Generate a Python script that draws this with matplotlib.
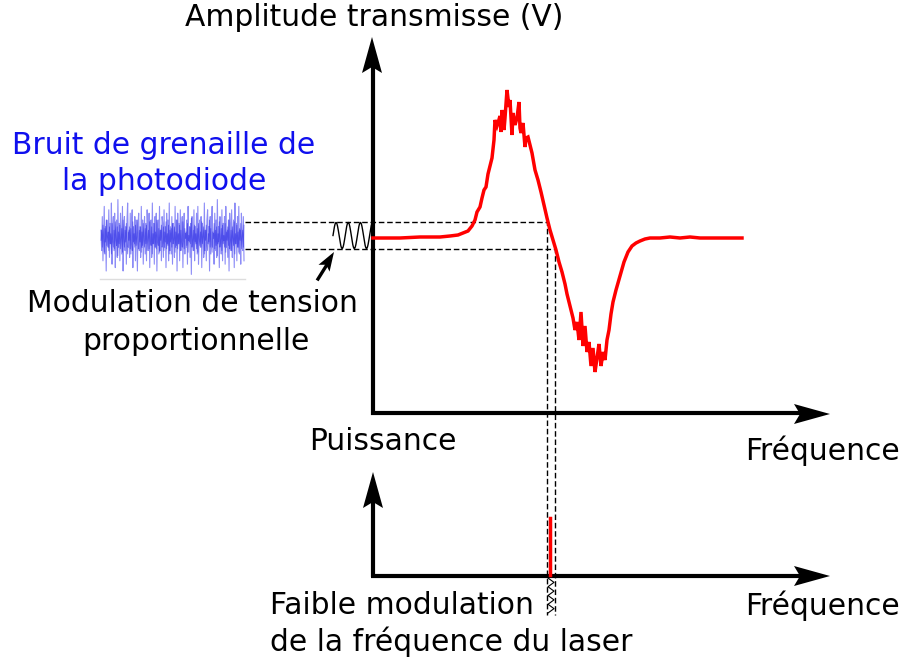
import numpy as np
import matplotlib.pyplot as plt
from matplotlib.patches import Polygon

# Courbe de transmission (signal d'erreur) - coordonnees lues en pixels
curve_x = [373, 400, 420, 440, 450, 458, 463, 468, 472, 475, 477, 480, 482, 484,
           486, 488, 490, 492, 494, 495, 497, 498, 500, 501, 502, 504, 505, 507,
           509, 510, 512, 513, 515, 517, 519, 520, 521, 523, 525, 526, 528, 530,
           532, 535, 538, 541, 544, 547, 550, 553, 556, 559, 562, 565, 567, 569,
           571, 573, 575, 577, 579, 581, 583, 585, 587, 589, 591, 593, 595, 597,
           599, 601, 603, 605, 607, 609, 611, 613, 616, 620, 624, 628, 632, 636,
           640, 645, 650, 660, 670, 680, 690, 700, 742]
curve_y = [238, 238, 237, 237, 236, 235, 233, 231, 226, 220, 212, 207, 198, 190,
           187, 174, 166, 158, 140, 120, 126, 123, 116, 132, 110, 130, 118, 90,
           107, 100, 135, 113, 125, 118, 102, 128, 133, 123, 147, 138, 137, 145,
           153, 170, 180, 192, 205, 218, 230, 240, 250, 262, 272, 284, 294, 302,
           310, 318, 330, 322, 340, 312, 346, 326, 352, 342, 366, 348, 372, 358,
           344, 366, 352, 360, 340, 330, 314, 302, 290, 276, 262, 252, 246, 243,
           241, 239, 238, 238, 237, 238, 237, 238, 238]

# Bruit de grenaille (valeurs normalisees)
bruit = [0.2, -0.4, 0.6, -0.7, 0.1, 0.9, -0.5, 0.3, -1.0, 0.5, 0.0, -0.3, 0.8,
         -0.6, 0.4, -0.2, 1.0, -0.8, 0.3, 0.6, -0.4, 0.7, -0.9, 0.2, 0.5, -0.6,
         1.1, -0.3, 0.4, -0.7, 0.7, 0.1, -0.5, 0.9, -1.0, 0.2, 0.6, -0.4, 0.3,
         -0.8, 0.5, 1.0, -0.3, 0.2, -0.6, 0.7, -0.5, 0.4, 0.8, -0.9, 0.3, -0.2,
         0.6, -0.7, 0.5, 0.0, -1.0, 0.4, 0.7, -0.4, 0.3, -0.6, 0.9, -0.3, 0.5,
         -0.8, 0.2, 0.6, -0.5, 0.4, -0.7, 0.8, 0.1, -0.4, 0.7, -0.9, 0.3, 0.5,
         -0.6, 1.0, -0.2, 0.4, -0.8, 0.6, -0.3, 0.7, -1.0, 0.3, 0.5, -0.5, 0.9,
         -0.4, 0.2, -0.7, 0.6, 0.4, -0.6, 0.8, -0.3, 0.3, -0.9, 0.7, -0.2, 0.5,
         -0.7, 1.0, -0.4, 0.3, -0.5, 0.6, -0.8, 0.4, 0.2, -0.6, 0.9, -0.3, 0.5,
         -1.0, 0.7, -0.2, 0.4, -0.7, 0.8, -0.4, 0.3, 0.6, -0.9, 0.2, 0.7, -0.5,
         0.1, -0.3, 0.5, -0.8, 0.9, -0.1, 0.3, -0.6, 0.4, -1.1, 0.6, 0.2, -0.4,
         0.8, -0.7, 0.3, -0.2, 0.7, -0.5, 0.9, -0.8, 0.1, 0.5, -0.3, 0.6, -0.9,
         0.4, 0.0, -0.6, 1.0, -0.4, 0.2, -0.7, 0.5, 0.8, -0.2, 0.3, -1.0, 0.6,
         -0.5, 0.4, 0.9, -0.3, 0.1, -0.8, 0.7, -0.4, 0.5, -0.6, 1.1, -0.2, 0.3,
         -0.9, 0.6, 0.2, -0.5, 0.8, -0.7, 0.4, -0.1, 0.6, -0.8, 0.9, -0.3, 0.2,
         -0.6, 0.5, -1.0, 0.7, 0.3, -0.4, 0.8, -0.6, 0.1, 0.5, -0.9, 1.0, -0.2,
         0.4, -0.7, 0.6, -0.3, 0.9, -0.5, 0.2, -0.8, 0.7, 0.0, -0.4, 0.6, -0.7]

fig = plt.figure(figsize=(9.07, 6.66), dpi=100)
ax = fig.add_axes([0, 0, 1, 1])
ax.set_xlim(0, 907)
ax.set_ylim(666, 0)
ax.axis('off')


def fleche(tip, direction, longueur=36, largeur=20, creux=6, **kw):
    d = np.array(direction, float)
    d /= np.linalg.norm(d)
    n = np.array([-d[1], d[0]])
    t = np.array(tip, float)
    base = t - d * longueur
    pts = [t, base + n * largeur / 2, base + d * creux, base - n * largeur / 2]
    ax.add_patch(Polygon(pts, closed=True, color='black', lw=0, **kw))


# Axes du haut
ax.plot([373, 373], [415, 60], color='black', lw=3, solid_capstyle='butt')
ax.plot([371, 805], [413, 413], color='black', lw=3, solid_capstyle='butt')
fleche((372, 37), (0, -1))
fleche((830, 414), (1, 0))

# Axes du bas
ax.plot([373, 373], [577, 495], color='black', lw=3, solid_capstyle='butt')
ax.plot([371, 805], [576, 576], color='black', lw=3, solid_capstyle='butt')
fleche((373, 472), (0, -1))
fleche((830, 576), (1, 0))

# Lignes de report en pointilles
dash = dict(color='black', lw=1, ls=(0, (4, 2)))
ax.plot([245, 547, 547], [222, 222, 615], **dash)
ax.plot([245, 555, 555], [249, 249, 615], **dash)

# Courbe rouge
ax.plot(curve_x, curve_y, color='red', lw=2.5, zorder=3, solid_joinstyle='miter')

# Raie laser et modulation de frequence
ax.plot([550, 550], [518, 575], color='red', lw=2.5)
zz_y = np.linspace(578, 613, 9)
zz_x = [548, 554, 548, 554, 548, 554, 548, 554, 548]
ax.plot(zz_x, zz_y, color='black', lw=0.8)

# Petite modulation sinusoidale
t = np.linspace(0, 1, 200)
ax.plot(333 + 39 * t, 235.5 - 13 * np.sin(2 * np.pi * 3.2 * t), color='black', lw=1)
fleche((334, 252), (16, -26), longueur=19, largeur=13, creux=4)
ax.plot([318, 328], [279, 263], color='black', lw=2.4)

# Bruit de la photodiode
xb = np.linspace(101, 244, len(bruit))
yb = 237 - 34 * np.array(bruit)
ax.plot(xb, yb, color='#3030f0', lw=0.8, alpha=0.55)
ax.plot(xb, 237 - 0.5 * (yb - 237), color='#1010e0', lw=0.6, alpha=0.5)
ax.plot([100, 245], [279, 279], color='#dddddd', lw=1)

fs = 21.4
ax.text(374, 18, 'Amplitude transmisse (V)', fontsize=fs, ha='center', va='center')
ax.text(164, 145, 'Bruit de grenaille de', fontsize=fs, ha='center', va='center', color='#1010ee')
ax.text(164, 182, 'la photodiode', fontsize=fs, ha='center', va='center', color='#1010ee')
ax.text(192, 303, 'Modulation de tension', fontsize=fs, ha='center', va='center')
ax.text(196, 342, 'proportionnelle', fontsize=fs, ha='center', va='center')
ax.text(383, 442, 'Puissance', fontsize=fs, ha='center', va='center')
ax.text(822, 451, 'Fréquence', fontsize=fs, ha='center', va='center')
ax.text(822, 606, 'Fréquence', fontsize=fs, ha='center', va='center')
ax.text(270, 606, 'Faible modulation', fontsize=fs, ha='left', va='center')
ax.text(270, 642, 'de la fréquence du laser', fontsize=fs, ha='left', va='center')

fig.savefig('out.png', dpi=100)
